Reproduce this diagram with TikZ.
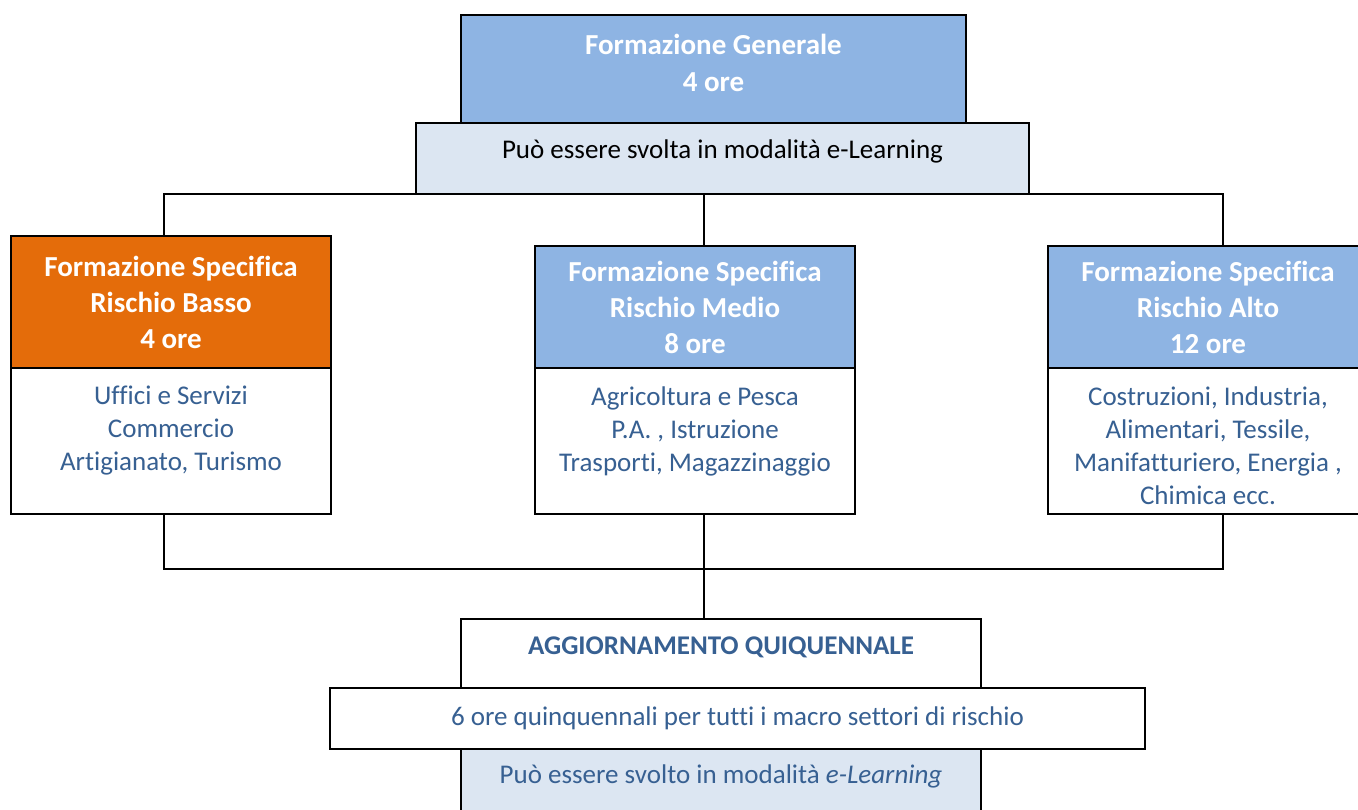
\documentclass[tikz,border=0pt]{standalone}
\usepackage{fontspec}
\setmainfont[Ligatures=NoCommon]{Carlito}
\usepackage{xcolor}
\usepackage{tikz}

\definecolor{hdrblue}{HTML}{8EB4E3}
\definecolor{paleblue}{HTML}{DCE6F2}
\definecolor{riskorange}{HTML}{E46C0A}
\definecolor{txtblue}{HTML}{376092}

\begin{document}
\begin{tikzpicture}[x=0.5pt, y=-0.5pt,
    box/.style={draw=black, line width=1.1pt, inner sep=0pt, outer sep=0pt,
                anchor=north west, align=center},
    headbox/.style={box, fill=hdrblue, text=white, minimum width=160pt,
                    font=\fontsize{14.5}{18}\selectfont\bfseries},
    bodybox/.style={box, fill=white, minimum width=160pt, minimum height=73pt},
    bodytext/.style={anchor=north, align=center, text=txtblue, inner sep=0pt,
                     font=\fontsize{13.5}{16.5}\selectfont},
    wire/.style={draw=black, line width=1.1pt}]
  \path[use as bounding box, clip] (0,0) rectangle (1358,809);

  % formazione generale
  \node[box, fill=hdrblue, text=white, minimum width=252.5pt, minimum height=54pt,
        text depth=6pt, font=\fontsize{14.5}{18.5}\selectfont\bfseries] (gen) at (461,15)
        {Formazione Generale\\4 ore};
  \node[box, fill=paleblue, minimum width=306.5pt, minimum height=35.5pt,
        text depth=9pt, font=\fontsize{13.5}{16.5}\selectfont] (genel) at (416,123)
        {Può essere svolta in modalità e-Learning};

  % formazione specifica
  \node[headbox, fill=riskorange, minimum height=66pt] (lowhead) at (11,236)
        {Formazione Specifica\\Rischio Basso\\4 ore};
  \node[bodybox] (lowbody) at (11,368) {};
  \node[bodytext, yshift=-9pt] (lowtext) at (lowbody.north)
        {Uffici e Servizi\\Commercio\\Artigianato, Turismo};

  \node[headbox, minimum height=61pt] (medhead) at (535,246)
        {Formazione Specifica\\Rischio Medio\\8 ore};
  \node[bodybox] (medbody) at (535,368) {};
  \node[bodytext, yshift=-9pt] (medtext) at (medbody.north)
        {Agricoltura e Pesca\\P.A. , Istruzione\\Trasporti, Magazzinaggio};

  \node[headbox, minimum height=61pt] (highhead) at (1048,246)
        {Formazione Specifica\\Rischio Alto\\12 ore};
  \node[bodybox] (highbody) at (1048,368) {};
  \node[bodytext, yshift=-9pt] (hightext) at (highbody.north)
        {Costruzioni, Industria,\\Alimentari, Tessile,\\Manifatturiero, Energia ,\\Chimica ecc.};

  % aggiornamento
  \node[box, fill=white, text=txtblue, minimum width=260pt, minimum height=34.5pt,
        text depth=7.5pt, font=\fontsize{13.5}{16.5}\selectfont\bfseries] (agg) at (461,619)
        {AGGIORNAMENTO QUIQUENNALE};
  \node[box, fill=paleblue, text=txtblue, minimum width=260pt, minimum height=35pt,
        text depth=10pt, font=\fontsize{13.5}{16.5}\selectfont] (aggel) at (461,749)
        {Può essere svolto in modalità \textit{e-Learning}};
  \node[box, fill=white, text=txtblue, minimum width=407.5pt, minimum height=30.5pt,
        font=\fontsize{13.5}{16.5}\selectfont] (sixore) at (330,688)
        {6 ore quinquennali per tutti i macro settori di rischio};

  % connectors
  \draw[wire] ([xshift=-3.5pt]lowhead.north) |- (genel.south)
              -| ([xshift=7.5pt]highhead.north);
  \draw[wire] ([xshift=4.5pt]medhead.north) -- ([xshift=4.5pt]medhead.north |- genel.south);
  \coordinate (bus) at (704,569);
  \draw[wire] ([xshift=-3.5pt]lowbody.south) |- (bus) -| ([xshift=7.5pt]highbody.south);
  \draw[wire] ([xshift=4.5pt]medbody.south) -- ([xshift=4.5pt]medbody.south |- agg.north);
\end{tikzpicture}
\end{document}
